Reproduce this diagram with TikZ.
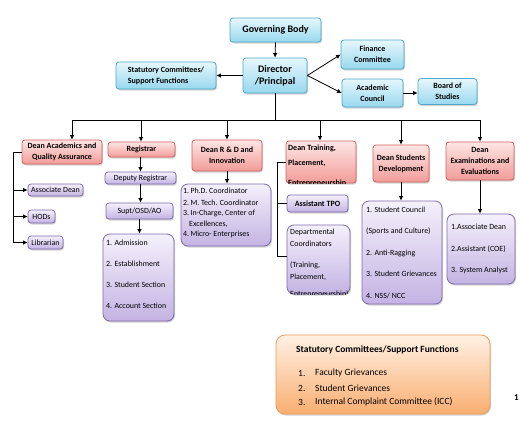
\documentclass[tikz,border=0pt]{standalone}
\usepackage{fontspec}
\setmainfont{Carlito}
\usetikzlibrary{shadows,arrows.meta}
\definecolor{bDraw}{HTML}{4FA9C9}
\definecolor{bTop}{HTML}{E6F7FC}
\definecolor{bBot}{HTML}{98D8EE}
\definecolor{pDraw}{HTML}{D0605C}
\definecolor{pTop}{HTML}{FDE6E5}
\definecolor{pBot}{HTML}{F29C98}
\definecolor{vDraw}{HTML}{7E69AC}
\definecolor{vTop}{HTML}{F4F0FB}
\definecolor{vBot}{HTML}{C4B3E3}
\definecolor{oDraw}{HTML}{EE9A55}
\definecolor{oTop}{HTML}{FFF1E3}
\definecolor{oBot}{HTML}{F9AE72}
\tikzset{
  boxbase/.style={rounded corners=3pt, line width=0.8pt, inner sep=1pt, align=center,
    drop shadow={shadow xshift=1pt, shadow yshift=-1.5pt, opacity=0.35}},
  bluebox/.style={boxbase, draw=bDraw, top color=bTop, bottom color=bBot,
    font=\fontsize{8}{11}\selectfont\bfseries},
  pinkbox/.style={boxbase, draw=pDraw, top color=pTop, bottom color=pBot,
    font=\fontsize{8}{11}\selectfont\bfseries},
  violbox/.style={boxbase, draw=vDraw, top color=vTop, bottom color=vBot,
    font=\fontsize{7.9}{9}\selectfont},
  listbox/.style={violbox, rounded corners=7pt},
  orbox/.style={boxbase, rounded corners=9pt, draw=oDraw, top color=oTop, bottom color=oBot},
  lt/.style={inner sep=0pt, anchor=west, font=\fontsize{7.9}{9}\selectfont},
  ltb/.style={lt, font=\fontsize{8}{10}\selectfont\bfseries},
  conn/.style={line width=0.8pt, black},
  arr/.style={conn, -{Latex[length=4.5pt,width=4.5pt]}}
}
\begin{document}
\begin{tikzpicture}[x=1pt,y=-1pt]
\useasboundingbox[fill=white] (0,0) rectangle (521,442);

% top level
\node[bluebox, minimum width=91pt, minimum height=24pt, font=\fontsize{10}{12}\selectfont\bfseries] (gb) at (275.5,30) {Governing Body};
\node[bluebox, minimum width=64pt, minimum height=35pt, font=\fontsize{10}{12}\selectfont\bfseries] (dir) at (275,75.5) {Director\\/Principal};
\node[bluebox, minimum width=100pt, minimum height=27pt, align=left] (stat) at (166,75.5) {Statutory Committees/\\Support Functions};
\node[bluebox, minimum width=63pt, minimum height=29pt] (fin) at (372.5,54.5) {Finance\\Committee};
\node[bluebox, minimum width=61pt, minimum height=28pt] (ac) at (372.5,93) {Academic\\Council};
\node[bluebox, minimum width=59pt, minimum height=26pt] (bos) at (447.5,91.5) {Board of\\Studies};

% deans
\node[pinkbox, minimum width=80pt, minimum height=24pt] (dacad) at (62,152) {Dean Academics and\\Quality Assurance};
\node[pinkbox, minimum width=67pt, minimum height=15pt] (reg) at (141.5,149.5) {Registrar};
\node[pinkbox, minimum width=70pt, minimum height=31pt] (drd) at (227,155.5) {Dean R \& D and\\Innovation};
\node[pinkbox, minimum width=70pt, minimum height=42pt] (dtp) at (321,162) {};
\begin{scope}
  \clip[rounded corners=3pt] (dtp.north west) rectangle (dtp.south east);
  \node[ltb] (dtp1) at (288,148) {Dean Training,};
  \node[ltb] (dtp2) at (288,163) {Placement,};
  \node[ltb] (dtp3) at (288,183.5) {Entrepreneurship};
\end{scope}
\node[pinkbox, minimum width=56pt, minimum height=37pt] (dsd) at (401,163.5) {Dean Students\\Development};
\node[pinkbox, minimum width=68pt, minimum height=38pt] (dex) at (480,161) {Dean\\Examinations and\\Evaluations};

% academics children
\node[violbox, minimum width=55pt, minimum height=12pt] (assoc) at (55.5,190) {Associate Dean};
\node[violbox, minimum width=27pt, minimum height=13pt] (hods) at (41.5,216.5) {HODs};
\node[violbox, minimum width=35pt, minimum height=13pt] (lib) at (45.5,242.5) {Librarian};

% registrar chain
\node[violbox, minimum width=71pt, minimum height=12pt] (dreg) at (140.5,178) {Deputy Registrar};
\node[violbox, minimum width=67pt, minimum height=16pt] (supt) at (139.5,211) {Supt/OSD/AO};
\node[listbox, minimum width=71pt, minimum height=87pt] (reglist) at (138.5,277.5) {};
\node[lt] (rl1) at (106,243) {1. Admission};
\node[lt] (rl2) at (106,264) {2. Establishment};
\node[lt] (rl3) at (106,285) {3. Student Section};
\node[lt] (rl4) at (106,306) {4. Account Section};

% R&D list
\node[listbox, minimum width=90pt, minimum height=62pt] (rdlist) at (226,215) {};
\node[lt] (rd1) at (183,191) {1.\,Ph.D. Coordinator};
\node[lt] (rd2) at (183,202.5) {2.\,M. Tech. Coordinator};
\node[lt] (rd3) at (183,213.5) {3.\,In-Charge, Center of};
\node[lt] (rd3b) at (189,224) {Excellences,};
\node[lt] (rd4) at (183,234.5) {4.\,Micro- Enterprises};

% training children
\node[violbox, minimum width=61pt, minimum height=17pt, font=\fontsize{8}{10}\selectfont\bfseries] (atpo) at (317.5,203.5) {Assistant TPO};
\node[listbox, minimum width=63pt, minimum height=69pt] (dcoord) at (318.5,259.5) {};
\begin{scope}
  \clip[rounded corners=7pt] (dcoord.north west) rectangle (dcoord.south east);
  \node[lt] (dc1) at (290,232) {Departmental};
  \node[lt] (dc2) at (290,244) {Coordinators};
  \node[lt] (dc3) at (290,265) {(Training,};
  \node[lt] (dc4) at (290,277) {Placement,};
  \node[lt] (dc5) at (290,294.5) {Entrepreneurship)};
\end{scope}

% students list
\node[listbox, minimum width=80pt, minimum height=103pt] (sdlist) at (402,252.5) {};
\node[lt] (sd1) at (366,210) {1. Student Council};
\node[lt] (sd2) at (366,231) {(Sports and Culture)};
\node[lt] (sd3) at (366,253) {2. Anti-Ragging};
\node[lt] (sd4) at (366,274) {3. Student Grievances};
\node[lt] (sd5) at (366,296) {4. NSS/ NCC};

% exams list
\node[listbox, minimum width=68pt, minimum height=70pt] (exlist) at (481,249) {};
\node[lt] (ex1) at (451,227) {1.Associate Dean};
\node[lt] (ex2) at (451,249) {2.Assistant (COE)};
\node[lt] (ex3) at (451,270) {3. System Analyst};

% bottom orange box
\node[orbox, minimum width=214pt, minimum height=79pt] (sc) at (383,374.5) {};
\node[lt, font=\fontsize{9.5}{11}\selectfont\bfseries] (sct) at (296,350) {Statutory Committees/Support Functions};
\node[lt, font=\fontsize{9.5}{11}\selectfont] (sc1n) at (298,373) {1.};
\node[lt, font=\fontsize{9.5}{11}\selectfont] (sc1) at (315,373) {Faculty Grievances};
\node[lt, font=\fontsize{9.5}{11}\selectfont] (sc2n) at (298,388) {2.};
\node[lt, font=\fontsize{9.5}{11}\selectfont] (sc2) at (315,388) {Student Grievances};
\node[lt, font=\fontsize{9.5}{11}\selectfont] (sc3n) at (298,402) {3.};
\node[lt, font=\fontsize{9.5}{11}\selectfont] (sc3) at (315,402) {Internal Complaint Committee (ICC)};

\node[lt, font=\fontsize{9}{10}\selectfont\bfseries] (stray) at (514,398) {1};

% connectors top
\draw[arr] (gb.south) -- (dir.north);
\draw[arr] (dir.west) -- (stat.east);
\draw[arr] (dir.east) -- (fin.west);
\draw[arr] (dir.east) -- (ac.west);
\draw[arr] (ac.east) -- (ac.east -| bos.west);

% bus
\coordinate (b1) at (72,120);
\coordinate (b2) at (141,120);
\coordinate (b3) at (227,120);
\coordinate (b4) at (320,120);
\coordinate (b5) at (401,120);
\coordinate (b6) at (480,120);
\draw[conn] (dir.south) -- (dir.south |- b1);
\draw[conn] (b1) -- (b6);
\draw[arr] (b1) -- (b1 |- dacad.north);
\draw[arr] (b2) -- (b2 |- reg.north);
\draw[arr] (b3) -- (b3 |- drd.north);
\draw[arr] (b4) -- (b4 |- dtp.north);
\draw[arr] (b5) -- (b5 |- dsd.north);
\draw[arr] (b6) -- (b6 |- dex.north);

% academics side spine
\coordinate (acs) at (13,0);
\draw[arr] (dacad.west) -- (dacad.west -| acs) |- (lib.west);
\draw[arr] (acs |- assoc.west) -- (assoc.west);
\draw[arr] (acs |- hods.west) -- (hods.west);

% registrar chain
\draw[arr] (reg.south -| dreg.north) -- (dreg.north);
\draw[arr] (dreg.south) -- (dreg.south |- supt.north);
\draw[arr] (supt.south) -- (supt.south |- reglist.north);

% R&D
\draw[arr] (drd.south) -- (drd.south |- rdlist.north);

% training spine
\coordinate (tps) at (277,0);
\coordinate (tpe) at (277,256);
\draw[conn] (dtp.west) -- (dtp.west -| tps) -- (tpe) -- (tpe -| dcoord.west);
\draw[conn] (tps |- atpo.west) -- (atpo.west);

% students & exams
\draw[arr] (dsd.south) -- (dsd.south |- sdlist.north);
\draw[arr] (dex.south) -- (dex.south |- exlist.north);
\end{tikzpicture}
\end{document}
